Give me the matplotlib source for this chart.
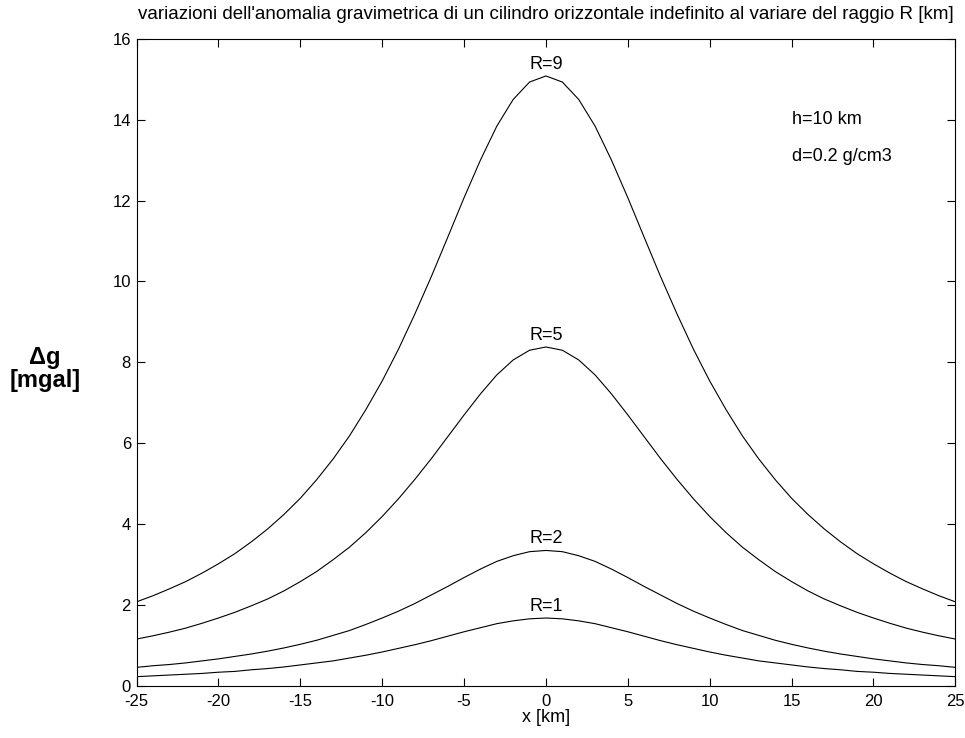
import matplotlib.pyplot as plt
import numpy as np

plt.rcParams['font.family'] = ['Liberation Sans', 'DejaVu Sans']
plt.rcParams['axes.unicode_minus'] = False

# x positions [km], one sample every km
x_km = list(range(-25, 26))

# anomaly values [mgal], from x=-25 to x=25
g_R1 = [0.23, 0.25, 0.27, 0.29, 0.31, 0.34, 0.36, 0.40, 0.43, 0.47, 0.52, 0.57, 0.62,
        0.69, 0.76, 0.84, 0.93, 1.02, 1.12, 1.23, 1.34, 1.44, 1.54, 1.61, 1.66,
        1.68,
        1.66, 1.61, 1.54, 1.44, 1.34, 1.23, 1.12, 1.02, 0.93, 0.84, 0.76, 0.69,
        0.62, 0.57, 0.52, 0.47, 0.43, 0.40, 0.36, 0.34, 0.31, 0.29, 0.27, 0.25, 0.23]
g_R2 = [0.46, 0.50, 0.53, 0.57, 0.62, 0.67, 0.73, 0.79, 0.86, 0.94, 1.03, 1.13, 1.25,
        1.37, 1.52, 1.68, 1.85, 2.04, 2.25, 2.46, 2.68, 2.89, 3.08, 3.22, 3.32,
        3.35,
        3.32, 3.22, 3.08, 2.89, 2.68, 2.46, 2.25, 2.04, 1.85, 1.68, 1.52, 1.37,
        1.25, 1.13, 1.03, 0.94, 0.86, 0.79, 0.73, 0.67, 0.62, 0.57, 0.53, 0.50, 0.46]
g_R5 = [1.16, 1.24, 1.33, 1.43, 1.55, 1.68, 1.82, 1.98, 2.15, 2.35, 2.58, 2.83, 3.12,
        3.43, 3.79, 4.19, 4.63, 5.11, 5.62, 6.16, 6.70, 7.22, 7.69, 8.06, 8.30,
        8.38,
        8.30, 8.06, 7.69, 7.22, 6.70, 6.16, 5.62, 5.11, 4.63, 4.19, 3.79, 3.43,
        3.12, 2.83, 2.58, 2.35, 2.15, 1.98, 1.82, 1.68, 1.55, 1.43, 1.33, 1.24, 1.16]
g_R9 = [2.08, 2.23, 2.40, 2.58, 2.79, 3.02, 3.27, 3.56, 3.88, 4.24, 4.64, 5.10, 5.61,
        6.18, 6.83, 7.54, 8.33, 9.20, 10.12, 11.09, 12.07, 13.00, 13.84, 14.50, 14.93,
        15.08,
        14.93, 14.50, 13.84, 13.00, 12.07, 11.09, 10.12, 9.20, 8.33, 7.54, 6.83, 6.18,
        5.61, 5.10, 4.64, 4.24, 3.88, 3.56, 3.27, 3.02, 2.79, 2.58, 2.40, 2.23, 2.08]

labels = ['R=1', 'R=2', 'R=5', 'R=9']
curves = [g_R1, g_R2, g_R5, g_R9]

fig = plt.figure(figsize=(9.65, 7.38), dpi=100)
ax = fig.add_axes([0.1415, 0.0705, 0.8485, 0.877])

for lab, g in zip(labels, curves):
    ax.plot(x_km, g, color='black', linewidth=0.8)
    ax.text(0, max(g) + 0.08, lab, ha='center', va='bottom', fontsize=13)

ax.text(15, 14, 'h=10 km', ha='left', va='center', fontsize=13)
ax.text(15, 13.1, 'd=0.2 g/cm3', ha='left', va='center', fontsize=13)

ax.set_xlim(-25, 25)
ax.set_ylim(0, 16)
ax.set_xticks(np.arange(-25, 26, 5))
ax.set_yticks(np.arange(0, 17, 2))
ax.tick_params(direction='in', top=True, right=True, labelsize=12, length=6)
ax.tick_params(axis='x', pad=6)
ax.tick_params(axis='y', pad=4)

ax.set_title("variazioni dell'anomalia gravimetrica di un cilindro orizzontale indefinito al variare del raggio R [km]",
             fontsize=13.5, pad=14)
ax.set_xlabel('x [km]', fontsize=13, labelpad=0)
ax.set_ylabel('\u0394g\n[mgal]', fontsize=17, fontweight='bold', rotation=0,
              va='center', ha='center', linespacing=1.0)
ax.yaxis.set_label_coords(-0.112, 0.49)

fig.savefig('out.png', dpi=100)
